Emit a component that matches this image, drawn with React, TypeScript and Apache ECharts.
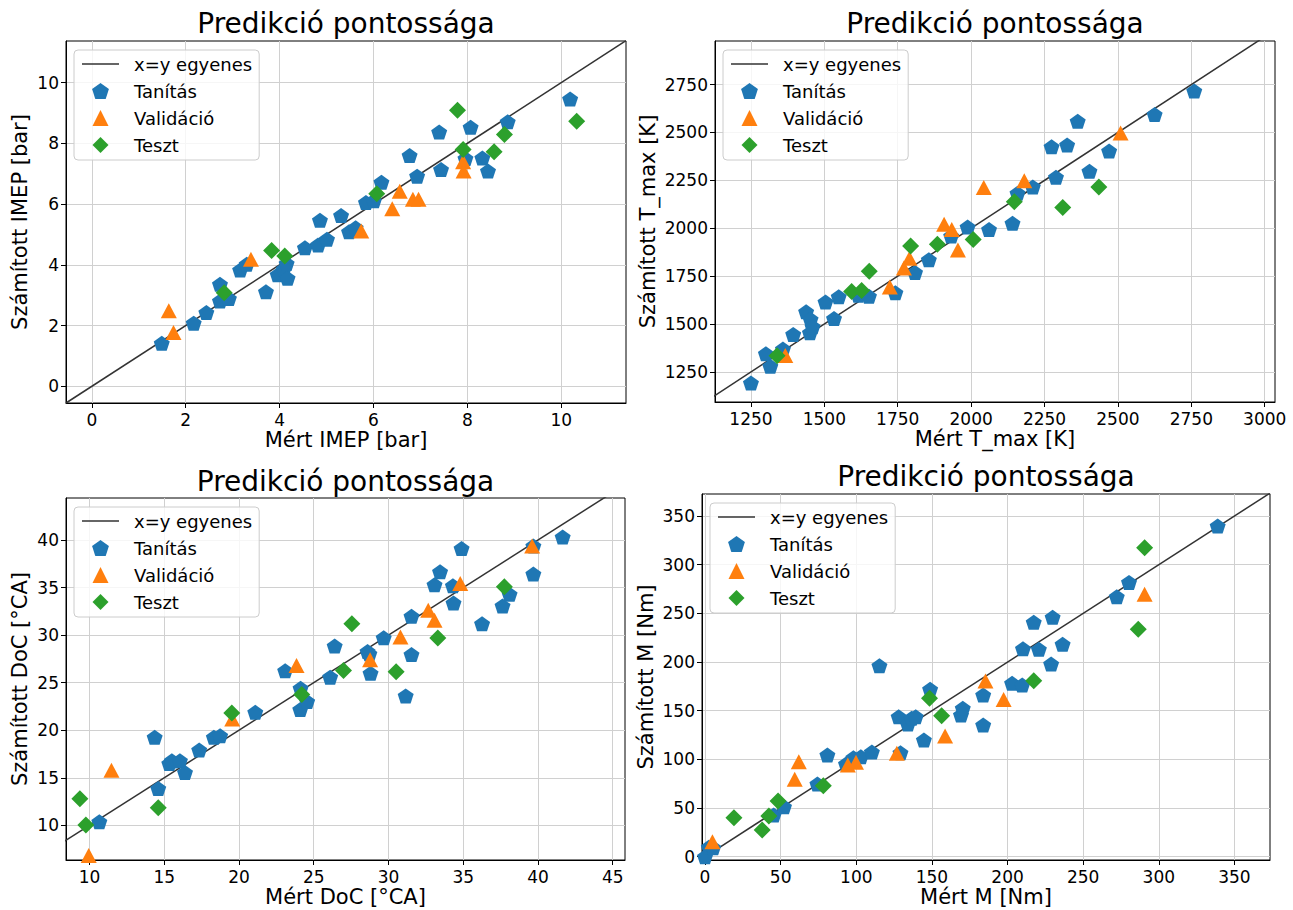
import React, { useEffect, useRef } from 'react';
import * as echarts from 'echarts';

const FONT = 'DejaVu Sans';
const NAMES = ['x=y egyenes', 'Tanítás', 'Validáció', 'Teszt'];
const TITLE = 'Predikció pontossága';

// ---- Panel 1: IMEP [bar]
const imepTrain = [
  [1.49, 1.42], [2.17, 2.08], [2.44, 2.43], [2.73, 3.36], [2.73, 2.81], [2.92, 2.89],
  [3.16, 3.83], [3.3, 4.02], [3.71, 3.11], [3.96, 3.67], [4.09, 3.86], [4.15, 4.04],
  [4.17, 3.56], [4.54, 4.56], [4.82, 4.65], [4.86, 5.47], [5.01, 4.84], [5.31, 5.62],
  [5.48, 5.09], [5.62, 5.22], [5.84, 6.05], [6.01, 6.11], [6.17, 6.72], [6.77, 7.6],
  [6.93, 6.92], [7.4, 8.37], [7.44, 7.14], [7.96, 7.5], [8.07, 8.53], [8.32, 7.52],
  [8.44, 7.09], [8.86, 8.71], [10.19, 9.46]
];
const imepVal = [
  [1.64, 2.49], [1.74, 1.77], [3.39, 4.18], [5.74, 5.11], [6.4, 5.85], [6.56, 6.42],
  [6.84, 6.16], [6.96, 6.16], [7.91, 7.39], [7.92, 7.09]
];
const imepTest = [
  [2.82, 3.08], [3.83, 4.47], [4.11, 4.29], [6.07, 6.34], [7.79, 9.09], [7.91, 7.8],
  [8.57, 7.72], [8.79, 8.29], [10.33, 8.73]
];
const imepTicks = [0, 2, 4, 6, 8, 10];

// ---- Panel 2: T_max [K]
const tmaxTrain = [
  [1250, 1192], [1301, 1345], [1316, 1280], [1359, 1370], [1394, 1446], [1438, 1564],
  [1453, 1525], [1451, 1455], [1460, 1486], [1504, 1615], [1533, 1529], [1549, 1642],
  [1616, 1650], [1652, 1645], [1742, 1663], [1809, 1769], [1856, 1836], [1932, 1959],
  [1988, 2007], [2061, 1994], [2141, 2026], [2158, 2183], [2210, 2216], [2274, 2426],
  [2289, 2266], [2327, 2435], [2363, 2559], [2403, 2298], [2470, 2403], [2625, 2594],
  [2760, 2717]
];
const tmaxVal = [
  [1367, 1336], [1723, 1693], [1771, 1793], [1790, 1843], [1908, 2021], [1934, 1993],
  [1955, 1887], [2043, 2213], [2181, 2248], [2509, 2497]
];
const tmaxTest = [
  [1339, 1335], [1593, 1670], [1627, 1675], [1653, 1776], [1794, 1908], [1885, 1917],
  [2007, 1941], [2147, 2139], [2312, 2109], [2435, 2216]
];
const tmaxXTicks = [1250, 1500, 1750, 2000, 2250, 2500, 2750, 3000];
const tmaxYTicks = [1250, 1500, 1750, 2000, 2250, 2500, 2750];

// ---- Panel 3: DoC [°CA]
const docTrain = [
  [10.66, 10.39], [14.36, 19.25], [14.6, 13.87], [15.34, 16.5], [15.51, 16.79], [16.05, 16.79],
  [16.39, 15.56], [17.34, 17.91], [18.32, 19.25], [18.74, 19.42], [21.09, 21.88], [23.09, 26.24],
  [24.12, 24.42], [24.1, 22.17], [24.56, 23.01], [26.1, 25.58], [26.4, 28.85], [28.6, 28.28],
  [28.72, 28.04], [28.8, 26.0], [29.68, 29.73], [31.15, 23.61], [31.54, 31.98], [31.54, 27.97],
  [33.08, 35.28], [33.45, 36.65], [34.31, 35.18], [34.35, 33.38], [34.89, 39.11], [36.26, 31.2],
  [37.63, 33.07], [38.1, 34.3], [39.69, 39.36], [39.69, 36.41], [41.65, 40.31]
];
const docVal = [
  [9.95, 6.84], [11.47, 15.8], [19.55, 21.18], [23.85, 26.81], [28.77, 27.41], [30.8, 29.8],
  [32.66, 32.61], [33.08, 31.55], [34.8, 35.42], [39.61, 39.36]
];
const docTest = [
  [9.36, 12.81], [9.76, 10.04], [14.6, 11.86], [19.52, 21.81], [24.2, 23.75], [26.99, 26.28],
  [27.55, 31.2], [30.51, 26.14], [33.3, 29.69], [37.75, 35.07]
];
const docXTicks = [10, 15, 20, 25, 30, 35, 40, 45];
const docYTicks = [10, 15, 20, 25, 30, 35, 40];

// ---- Panel 4: M [Nm]
const mTrain = [
  [0, 0], [2.5, 9.6], [5.4, 9.2], [45.4, 42.8], [52.2, 51.4], [74.3, 74.7], [80.9, 104.5],
  [93.2, 95.2], [98.1, 101.7], [103.0, 102.7], [110.3, 107.5], [115.3, 196.2], [128.0, 143.8],
  [129.2, 106.8], [134.1, 136.3], [136.6, 142.1], [139.3, 143.8], [144.7, 119.9], [148.8, 171.9],
  [169.2, 145.5], [170.4, 152.4], [183.9, 166.1], [183.9, 135.3], [203.0, 178.1], [209.7, 176.4],
  [210.2, 213.7], [217.3, 240.8], [220.7, 213.0], [228.8, 197.9], [229.8, 245.9], [236.4, 218.2],
  [272.2, 267.1], [280.3, 281.8], [338.9, 339.7]
];
const mVal = [
  [4.9, 15.4], [59.3, 79.5], [62.0, 97.6], [94.4, 94.2], [99.8, 96.9], [126.8, 106.2],
  [158.7, 124.0], [197.4, 161.6], [185.4, 180.5], [290.6, 269.5]
];
const mTest = [
  [19.1, 40.1], [37.8, 27.4], [42.2, 41.8], [48.3, 57.2], [78.2, 72.9], [148.4, 162.7],
  [156.4, 144.9], [217.3, 180.8], [286.4, 233.6], [290.6, 317.5]
];
const mTicks = [0, 50, 100, 150, 200, 250, 300, 350];

const PANELS = [
  {
    xName: 'Mért IMEP [bar]', yName: 'Számított IMEP [bar]',
    train: imepTrain, val: imepVal, test: imepTest,
    xTicks: imepTicks, yTicks: imepTicks,
    xLim: [-0.55, 11.38], yLim: [-0.55, 11.37],
    grid: { left: 66, top: 41, width: 560, height: 362 }, yNameGap: 36, titleTop: 9.3,
  },
  {
    xName: 'Mért T_max [K]', yName: 'Számított T_max [K]',
    train: tmaxTrain, val: tmaxVal, test: tmaxTest,
    xTicks: tmaxXTicks, yTicks: tmaxYTicks,
    xLim: [1127.6, 3035], yLim: [1093, 2977.6],
    grid: { left: 715, top: 41, width: 560, height: 361 }, yNameGap: 57, titleTop: 9.3,
  },
  {
    xName: 'Mért DoC [°CA]', yName: 'Számított DoC [°CA]',
    train: docTrain, val: docVal, test: docTest,
    xTicks: docXTicks, yTicks: docYTicks,
    xLim: [8.43, 45.82], yLim: [6.36, 44.41],
    grid: { left: 66, top: 498, width: 559, height: 362 }, yNameGap: 36, titleTop: 467.3,
  },
  {
    xName: 'Mért M [Nm]', yName: 'Számított M [Nm]',
    train: mTrain, val: mVal, test: mTest,
    xTicks: mTicks, yTicks: mTicks,
    xLim: [-2, 373.5], yLim: [-3.4, 372.6],
    grid: { left: 702, top: 494, width: 568, height: 366 }, yNameGap: 46, titleTop: 462.8,
  },
];

const PENT = 'path://M0,-1 L0.951,-0.309 L0.588,0.809 L-0.588,0.809 L-0.951,-0.309 Z';
const TRI = 'path://M0,-1 L1,1 L-1,1 Z';
const DIAM = 'path://M0,-1 L1,0 L0,1 L-1,0 Z';
const LINE_ICON = 'path://M0,0 L37,0 L37,1.5 L0,1.5 Z';
const C_BLUE = '#1f77b4';
const C_ORANGE = '#ff7f0e';
const C_GREEN = '#2ca02c';
const C_LINE = '#333333';

function buildOption() {
  const grid: any[] = [];
  const xAxis: any[] = [];
  const yAxis: any[] = [];
  const series: any[] = [];
  const legend: any[] = [];
  const graphic: any[] = [];

  PANELS.forEach((p, i) => {
    grid.push({
      ...p.grid, show: true, borderColor: '#000', borderWidth: 1,
      backgroundColor: 'transparent', containLabel: false, outerBoundsMode: 'none',
    });
    const axisCommon = (ticks: number[]) => ({
      type: 'value',
      gridIndex: i,
      nameLocation: 'middle',
      nameTextStyle: { fontSize: 21, fontFamily: FONT, color: '#000' },
      axisLine: { show: true, onZero: false, lineStyle: { color: '#000', width: 1 } },
      axisTick: { show: true, inside: false, length: 5, customValues: ticks, lineStyle: { color: '#000', width: 1 } },
      axisLabel: {
        show: true, customValues: ticks, fontSize: 17, fontFamily: FONT, color: '#000',
        formatter: (v: number) => String(v),
      },
      splitLine: { show: true, lineStyle: { color: '#d0d0d0', width: 1 } },
    });
    const xa: any = axisCommon(p.xTicks);
    xa.min = p.xLim[0]; xa.max = p.xLim[1];
    xa.name = p.xName; xa.nameGap = 26;
    xa.axisLabel.margin = 8;
    xAxis.push(xa);
    const ya: any = axisCommon(p.yTicks);
    ya.min = p.yLim[0]; ya.max = p.yLim[1];
    ya.name = p.yName; ya.nameGap = p.yNameGap;
    ya.axisLabel.margin = 7;
    yAxis.push(ya);

    const lo = Math.min(p.xLim[0], p.yLim[0]);
    const hi = Math.max(p.xLim[1], p.yLim[1]);
    series.push({
      type: 'line', name: NAMES[0], xAxisIndex: i, yAxisIndex: i,
      data: [[lo, lo], [hi, hi]], symbol: 'none', clip: true, silent: true, z: 1,
      lineStyle: { color: C_LINE, width: 1.5 }, itemStyle: { color: C_LINE },
    });
    series.push({
      type: 'scatter', name: NAMES[1], xAxisIndex: i, yAxisIndex: i, data: p.train,
      symbol: PENT, symbolSize: [16, 15], itemStyle: { color: C_BLUE, opacity: 1 }, z: 2,
    });
    series.push({
      type: 'scatter', name: NAMES[2], xAxisIndex: i, yAxisIndex: i, data: p.val,
      symbol: TRI, symbolSize: [16, 15], itemStyle: { color: C_ORANGE, opacity: 1 }, z: 3,
    });
    series.push({
      type: 'scatter', name: NAMES[3], xAxisIndex: i, yAxisIndex: i, data: p.test,
      symbol: DIAM, symbolSize: [17, 17], itemStyle: { color: C_GREEN, opacity: 1 }, z: 4,
    });

    legend.push({
      left: p.grid.left + 8, top: p.grid.top + 9, orient: 'vertical',
      padding: [5, 7, 6, 8], itemWidth: 37, itemHeight: 16, itemGap: 9,
      data: [{ name: NAMES[0], icon: LINE_ICON }, NAMES[1], NAMES[2], NAMES[3]],
      symbolKeepAspect: true, selectedMode: false,
      textStyle: { fontSize: 18, fontFamily: FONT, color: '#000', padding: [0, 0, 0, 10] },
      backgroundColor: 'rgba(255,255,255,0.8)', borderColor: '#cccccc', borderWidth: 1, borderRadius: 4,
      z: 10,
    });

    graphic.push({
      type: 'text',
      x: p.grid.left + p.grid.width / 2,
      y: p.titleTop,
      style: {
        text: TITLE, fill: '#000', font: `28px "${FONT}"`,
        textAlign: 'center', textVerticalAlign: 'top',
      },
    });
  });

  return {
    animation: false,
    backgroundColor: '#ffffff',
    textStyle: { fontFamily: FONT },
    grid, xAxis, yAxis, series, legend, graphic,
  };
}

export default function App() {
  const ref = useRef<HTMLDivElement>(null);
  useEffect(() => {
    if (!ref.current) return;
    const chart = echarts.init(ref.current, undefined, { renderer: 'svg' });
    chart.setOption(buildOption() as any);
    return () => chart.dispose();
  }, []);
  return (
    <div
      ref={ref}
      style={{ position: 'absolute', left: 0, top: 0, width: 1293, height: 910, background: '#fff' }}
    />
  );
}
